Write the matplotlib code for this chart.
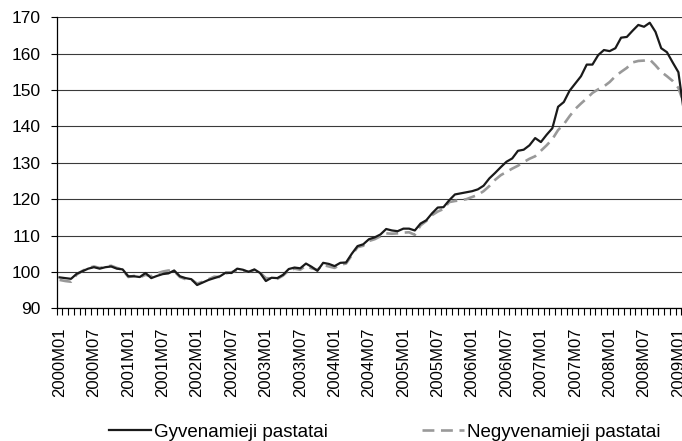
import matplotlib
matplotlib.use("Agg")
import matplotlib.pyplot as plt

plt.rcParams['font.family'] = ['Liberation Sans', 'DejaVu Sans']

# monthly categories 2000M01 .. 2009M02
months = [f"{y}M{m:02d}" for y in range(2000, 2010) for m in range(1, 13)][:110]

gyvenamieji = [
    98.5, 98.3, 98.1, 99.5, 100.2, 100.9, 101.3, 100.9, 101.3, 101.5,
    100.9, 100.7, 98.8, 98.8, 98.6, 99.7, 98.3, 98.9, 99.4, 99.6,
    100.4, 98.8, 98.3, 98.0, 96.4, 97.1, 97.8, 98.3, 98.8, 99.8,
    99.7, 100.9, 100.6, 100.0, 100.7, 99.7, 97.5, 98.4, 98.3, 99.2,
    100.8, 101.2, 101.0, 102.3, 101.4, 100.3, 102.5, 102.2, 101.6, 102.5,
    102.6, 105.0, 107.1, 107.6, 109.0, 109.5, 110.3, 111.8, 111.4, 111.2,
    111.9, 111.9, 111.4, 113.3, 114.2, 116.1, 117.7, 117.8, 119.7, 121.3,
    121.6, 121.9, 122.2, 122.7, 123.7, 125.7, 127.2, 128.8, 130.3, 131.2,
    133.3, 133.6, 134.8, 136.8, 135.7, 137.7, 139.5, 145.4, 146.7, 149.8,
    151.8, 153.8, 157.0, 157.0, 159.6, 161.0, 160.7, 161.5, 164.4, 164.6,
    166.3, 167.9, 167.4, 168.5, 166.0, 161.5, 160.4, 157.6, 154.9, 143.5,
]

negyvenamieji = [
    97.8, 97.5, 97.3, 99.3, 100.3, 101.1, 101.5, 101.1, 101.4, 101.7,
    101.1, 100.6, 98.6, 98.9, 98.5, 99.2, 98.8, 99.6, 100.1, 100.4,
    100.2, 98.6, 98.0, 97.9, 96.8, 97.3, 98.0, 98.7, 98.6, 99.6,
    99.9, 100.5, 100.3, 100.1, 100.5, 99.8, 98.3, 98.2, 98.1, 99.0,
    100.4, 100.9, 100.6, 101.7, 101.0, 100.6, 101.9, 101.5, 101.1, 102.0,
    102.3, 104.6, 106.8, 107.2, 108.5, 109.0, 109.8, 110.6, 110.5, 110.6,
    110.8, 110.9, 110.2, 112.8, 114.0, 115.6, 116.6, 117.3, 119.2, 119.5,
    119.7, 120.0, 120.6, 121.2, 122.2, 123.6, 125.3, 126.6, 127.5, 128.4,
    129.2, 130.2, 131.1, 131.8, 133.3, 134.8, 136.5, 139.0, 140.6, 142.8,
    144.8, 146.3, 147.7, 149.2, 150.2, 151.0, 152.2, 153.8, 155.0, 156.1,
    157.6, 158.0, 158.1, 158.4, 156.8, 155.0, 153.8, 152.5, 150.6, 146.0,
]

W, H = 682, 441
fig = plt.figure(figsize=(W / 100, H / 100), dpi=100)
ax = fig.add_axes([56.7 / W, 1 - 308.3 / H, (W - 56.7) / W, 291.0 / H])

x = list(range(len(months)))
ax.plot(x, gyvenamieji, color='#1a1a1a', lw=1.6, label='Gyvenamieji pastatai',
        solid_joinstyle='round', zorder=3)
ax.plot(x, negyvenamieji, color='#999999', lw=1.9, ls=(0, (4.5, 2.5)),
        label='Negyvenamieji pastatai', zorder=2)

ax.set_ylim(90, 170)
ax.set_yticks(range(90, 171, 10))
ax.set_xlim(-0.5, -0.5 + (W - 56.7) / 5.73)

# labels every 6 months, tick marks between every category
ax.set_xticks(x[::6])
ax.set_xticklabels(months[::6], rotation=90, va='top', ha='center')
ax.set_xticks([i - 0.5 for i in x], minor=True)
ax.tick_params(axis='x', which='major', length=0, pad=14, labelsize=12)
ax.tick_params(axis='x', which='minor', length=5, width=0.8, direction='out')
ax.tick_params(axis='y', length=4.5, width=0.8, pad=7, labelsize=12.5)

ax.grid(axis='y', color='#3a3a3a', lw=0.8)
ax.set_axisbelow(True)
for s in ('top', 'right'):
    ax.spines[s].set_visible(False)
for s in ('left', 'bottom'):
    ax.spines[s].set_linewidth(0.9)

fig.legend(loc='center', bbox_to_anchor=(385 / W, 1 - 432 / H), ncol=2,
           frameon=False, fontsize=13.5, handlelength=2.25, handletextpad=0.16,
           columnspacing=5.0, borderpad=0)

fig.savefig('out.png', dpi=100)
